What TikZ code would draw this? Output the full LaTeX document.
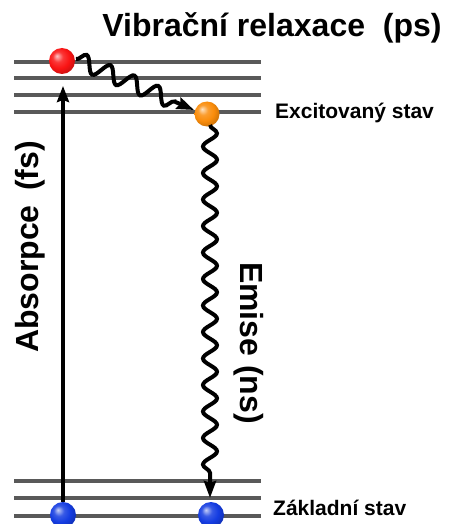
\documentclass[tikz,border=0pt]{standalone}
\usepackage{fontspec}
\setmainfont{Liberation Sans}
\usetikzlibrary{decorations.pathmorphing,arrows.meta,calc}
\definecolor{ballred}{RGB}{250,20,20}
\definecolor{ballorange}{RGB}{250,140,10}
\definecolor{ballblue}{RGB}{20,60,225}
\makeatletter
\pgfdeclareradialshading[tikz@ball]{brightball}{\pgfqpoint{-10bp}{10bp}}{%
  color(0bp)=(tikz@ball!25!white); color(10bp)=(tikz@ball!85!white);
  color(20bp)=(tikz@ball); color(28bp)=(tikz@ball!85!black); color(50bp)=(tikz@ball!60!black)}
\makeatother
\begin{document}
\begin{tikzpicture}[x=1pt,y=1pt,
  level/.style={line width=3.6pt,draw=black!65},
  ballnode/.style={circle,minimum size=26pt,inner sep=0pt},
  wave/.style={line width=4pt,black,decorate,-{Stealth[length=17pt,width=12pt,inset=2pt]}},
  bigtxt/.style={font=\fontsize{32}{38}\selectfont\bfseries,inner sep=0pt},
  midtxt/.style={font=\fontsize{21}{25}\selectfont\bfseries,inner sep=0pt},
]
\useasboundingbox (0,0) rectangle (449,-524);
% levels
\foreach \y in {62,78,95,112,481,498,516}{
  \draw[level] (14,-\y) -- (261,-\y);
}
% balls
\node[ballnode,ball color=ballred,shading=brightball] (r) at (62,-61) {};
\node[ballnode,ball color=ballorange,shading=brightball,minimum size=25pt] (o) at (207,-114) {};
\node[ballnode,ball color=ballblue,shading=brightball] (b1) at (63,-515) {};
\node[ballnode,ball color=ballblue,shading=brightball] (b2) at (211,-515) {};
% coordinates for arrow tips
\coordinate (abstip) at (63,-86);
\coordinate (emtip) at (210,-498);
\coordinate (reltip) at (194,-110);
\coordinate (relstart) at (76,-59);
\coordinate (emstart) at (210,-125);
% absorption
\draw[line width=3.4pt,-{Stealth[length=16pt,width=12pt,inset=2pt]}] (b1.north) -- (abstip);
% vibrational relaxation
\draw[wave,decoration={snake,segment length=26pt,amplitude=8pt,post length=18pt}] (relstart) -- (reltip);
% emission
\draw[wave,decoration={snake,segment length=26.5pt,amplitude=7pt,post length=16pt}] (emstart) -- (emtip);
% texts
\node[bigtxt,anchor=base] (title) at (272,-37) {Vibrační relaxace\ \ (ps)};
\node[midtxt,anchor=base west] (exc) at (275,-118) {Excitovaný stav};
\node[midtxt,anchor=base west] (zak) at (273,-515) {Základní stav};
\node[bigtxt,anchor=base west,rotate=90] (abs) at (38,-353) {Absorpce\hspace{0.45em}(fs)};
\node[bigtxt,anchor=base west,rotate=-90] (emi) at (240,-262) {Emise (ns)};
\end{tikzpicture}
\end{document}
